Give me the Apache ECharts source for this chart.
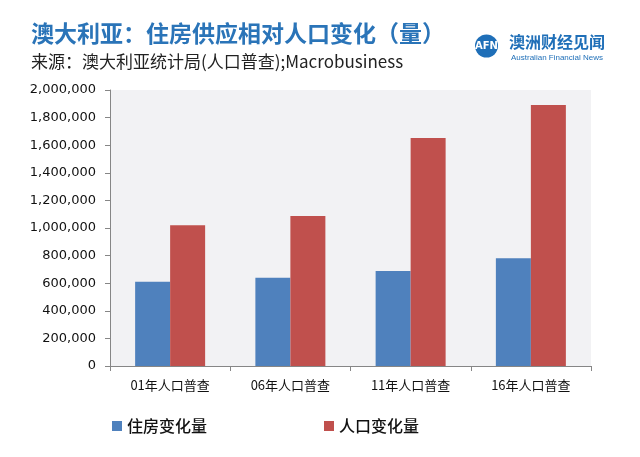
<!DOCTYPE html>
<html><head><meta charset="utf-8">
<script src="https://cdn.jsdelivr.net/npm/echarts@6/dist/echarts.min.js"></script>
<style>html,body{margin:0;padding:0;background:#fff}#c{width:640px;height:457px}</style>
</head><body><div id="c"></div>
<script>
const categories = ['01年人口普查', '06年人口普查', '11年人口普查', '16年人口普查'];
const housingChange = [610000, 640000, 688000, 780000];
const populationChange = [1020000, 1087000, 1652000, 1891000];
const seriesNames = ['住房变化量', '人口变化量'];

const chart = echarts.init(document.getElementById('c'));
chart.setOption({
  animation: false,
  backgroundColor: '#ffffff',
  title: [{
    text: '澳大利亚：住房供应相对人口变化（量）',
    left: 26, top: 17,
    textStyle: { color: '#2a74b8', fontSize: 23, fontWeight: 'bold', fontFamily: 'Noto Sans CJK SC' }
  }, {
    text: '来源：澳大利亚统计局(人口普查);Macrobusiness',
    left: 26, top: 48,
    textStyle: { color: '#222', fontSize: 17, fontWeight: 'normal', fontFamily: 'Noto Sans CJK SC' }
  }],
  graphic: [
    { type: 'circle', shape: { cx: 486.5, cy: 46, r: 11.5 }, style: { fill: '#1f6fb8' } },
    { type: 'text', x: 486.5, y: 46.5, style: { text: 'AFN', fill: '#fff', font: 'bold 10px "DejaVu Sans"', textAlign: 'center', textVerticalAlign: 'middle' } },
    { type: 'text', x: 509, y: 34, style: { text: '澳洲财经见闻', fill: '#1f6fb8', font: 'bold 16px "Noto Sans CJK SC"' } },
    { type: 'text', x: 511, y: 54, style: { text: 'Australian Financial News', fill: '#1f6fb8', font: '8px "Liberation Sans"' } }
  ],
  legend: {
    data: seriesNames,
    left: 107, top: 413,
    itemWidth: 10, itemHeight: 10, itemGap: 117,
    icon: 'rect',
    textStyle: { fontSize: 16, color: '#111', fontFamily: 'Noto Sans CJK SC', fontWeight: 500 }
  },
  grid: { left: 110, right: 49, top: 90, bottom: 91, show: true, backgroundColor: '#f2f2f4', borderWidth: 0 },
  xAxis: {
    type: 'category', data: categories,
    axisLine: { lineStyle: { color: '#868686' } },
    axisTick: { show: true, length: 5, lineStyle: { color: '#868686' } },
    axisLabel: { color: '#111', fontSize: 13, margin: 13, fontFamily: 'Noto Sans CJK SC' }
  },
  yAxis: {
    type: 'value', min: 0, max: 2000000, interval: 200000,
    axisLine: { show: true, lineStyle: { color: '#868686' } },
    axisTick: { show: true, length: 5, lineStyle: { color: '#868686' } },
    splitLine: { show: false },
    axisLabel: {
      color: '#111', fontSize: 13, margin: 14, fontFamily: 'DejaVu Sans',
      formatter: v => v.toLocaleString('en-US')
    }
  },
  series: [
    { name: seriesNames[0], type: 'bar', data: housingChange, barWidth: 35, barGap: '0%', itemStyle: { color: '#4f81bd' } },
    { name: seriesNames[1], type: 'bar', data: populationChange, barWidth: 35, barGap: '0%', itemStyle: { color: '#c0504d' } }
  ]
});
</script></body></html>
